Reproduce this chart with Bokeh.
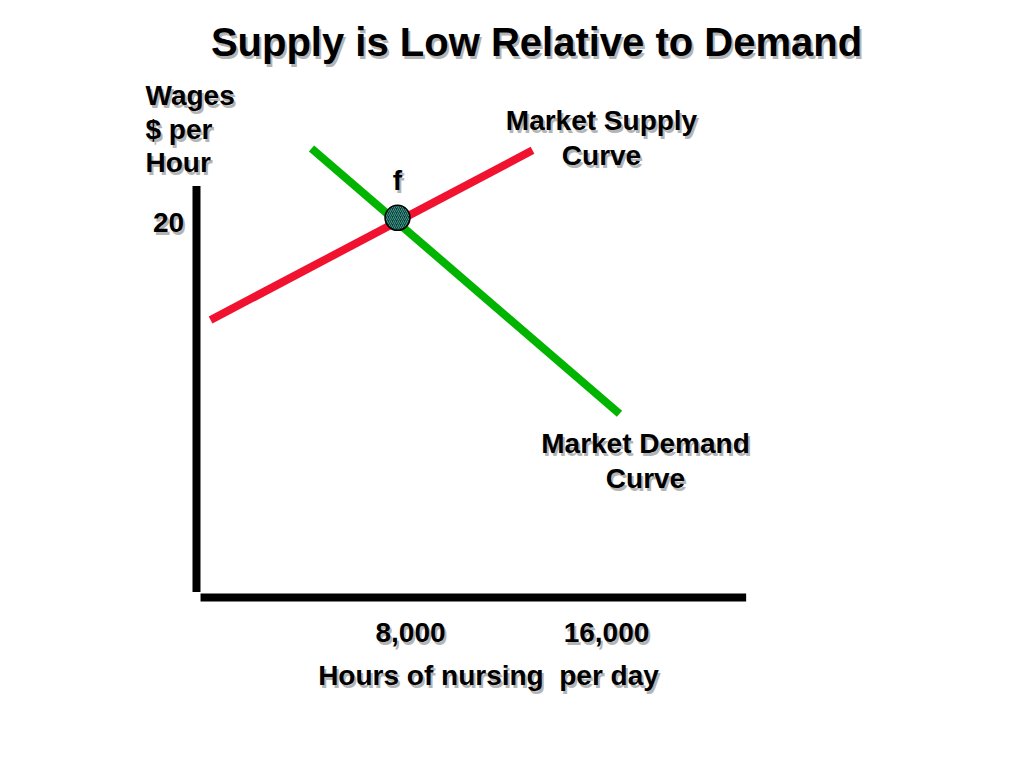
from bokeh.plotting import figure
from bokeh.models import Range1d, ColumnDataSource
from bokeh.core.properties import value
from bokeh.embed import file_html
from bokeh.resources import INLINE

# ---- data (hours of nursing per day, wages $ per hour) ----
supply_hours = [-160, 12980]
supply_wages = [14.8, 23.85]
demand_hours = [3960, 16530]
demand_wages = [23.95, 9.8]
eq_hours = [7470]
eq_wages = [20.25]
eq_label = ["f"]

tick_hours = [8000, 16000]
tick_labels = ["8,000", "16,000"]
wage_ticks = [20]
wage_labels = ["20"]

yaxis_hours = [-735, -735]
yaxis_wages = [0.3, 21.95]
xaxis_hours = [-570, 21700]
xaxis_wages = [0, 0]

title = "Supply is Low Relative to Demand"
y_title_lines = ["Wages", "$ per", "Hour"]
x_title = "Hours of nursing\u00a0 per day"
supply_label = ["Market Supply", "Curve"]
demand_label = ["Market Demand", "Curve"]

W, H = 1008, 752
# pixel mapping: h = (px-214)*40.816 ; w = (597-py)/18.75  (page coords)
HPX = 8000 / 196.0
WPX = 1 / 18.75
def hx(px):
    return (px - 214) * HPX
def wy(py):
    return (597 - py) * WPX

p = figure(width=W, height=H, output_backend="svg", toolbar_location=None,
           x_range=Range1d(hx(0), hx(W)), y_range=Range1d(wy(H), wy(0)),
           min_border=0, min_border_left=0, min_border_right=0,
           min_border_top=0, min_border_bottom=0)
p.axis.visible = False
p.grid.visible = False
p.outline_line_color = None
p.background_fill_color = "white"
p.border_fill_color = "white"

FONT = value("Liberation Sans")
SHADOW = "#b4b4b4"

def label(xs, ys, texts, size, align="center", baseline="middle"):
    src = ColumnDataSource(dict(x=xs, y=ys, t=texts))
    p.text("x", "y", text="t", source=src, text_font=FONT, text_font_style="bold",
           text_font_size=size, text_color=SHADOW, text_align=align,
           text_baseline=baseline, x_offset=2, y_offset=3)
    p.text("x", "y", text="t", source=src, text_font=FONT, text_font_style="bold",
           text_font_size=size, text_color="black", text_align=align,
           text_baseline=baseline)

# axes
p.line(yaxis_hours, yaxis_wages, line_color="black", line_width=8)
p.line(xaxis_hours, xaxis_wages, line_color="black", line_width=8)

# curves
p.line(supply_hours, supply_wages, line_color="#F0122F", line_width=8)
p.line(demand_hours, demand_wages, line_color="#00B400", line_width=8)

# equilibrium point
p.scatter(eq_hours, eq_wages, size=25, marker="circle", fill_color="#123C36",
          line_color="black", line_width=1.5, hatch_pattern="/",
          hatch_color="#3C9A8C", hatch_scale=4, hatch_weight=1)

# texts
label([hx(536)], [wy(41)], [title], "40px")
label([hx(145)] * 3, [wy(95), wy(129), wy(162)], y_title_lines, "28px", align="left")
label([hx(168)], wage_ticks, wage_labels, "28px")
label(tick_hours, [wy(632)] * 2, tick_labels, "28px")
label([hx(488)], [wy(675)], [x_title], "28px")
label([hx(601)] * 2, [wy(120), wy(155)], supply_label, "28px")
label([hx(645)] * 2, [wy(443), wy(478)], demand_label, "28px")
label(eq_hours, [wy(180)], eq_label, "28px")

open("out.html", "w").write(file_html(p, INLINE))
